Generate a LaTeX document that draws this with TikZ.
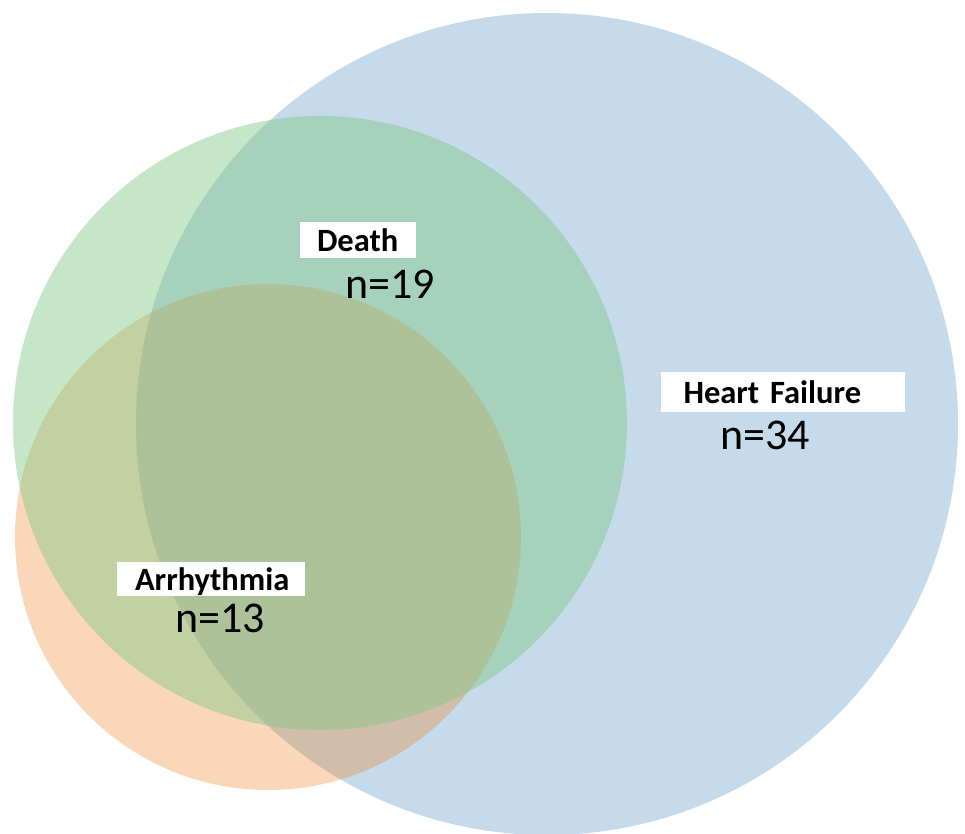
\documentclass[tikz,border=0pt]{standalone}
\usepackage{fontspec}
\setmainfont{Carlito}
\definecolor{hfblue}{RGB}{89,149,195}
\definecolor{deathgreen}{RGB}{128,199,133}
\definecolor{arrorange}{RGB}{242,122,22}
\tikzset{
  setname/.style={fill=white, font=\bfseries\fontsize{18.5}{22}\selectfont, align=left, inner ysep=0pt, text depth=0pt},
  setcount/.style={font=\fontsize{25}{30}\selectfont, inner sep=0pt}
}
\begin{document}
\begin{tikzpicture}[x=0.02cm,y=-0.02cm]

\useasboundingbox (0,0) rectangle (965,834);
\clip (0,0) rectangle (965,834);
\fill[hfblue, opacity=0.35] (547,424) circle[radius=411];
\fill[arrorange, opacity=0.3] (268,537) circle[radius=253];
\fill[deathgreen, opacity=0.45] (320,423) circle[radius=307];
\node[setname, text width=1.64cm, inner xsep=0.34cm, minimum height=0.72cm] (v1) at (358,240) {Death};
\node[setcount] (v2) at (390,284) {n=19};
\node[setname, text width=3.98cm, inner xsep=0.46cm, minimum height=0.82cm] (v3) at (783,392) {Heart Failure};
\node[setcount] (v4) at (765,435) {n=34};
\node[setname, text width=3.04cm, inner xsep=0.36cm, minimum height=0.70cm] (v5) at (211,579) {Arrhythmia};
\node[setcount] (v6) at (220,618) {n=13};
\end{tikzpicture}
\end{document}
